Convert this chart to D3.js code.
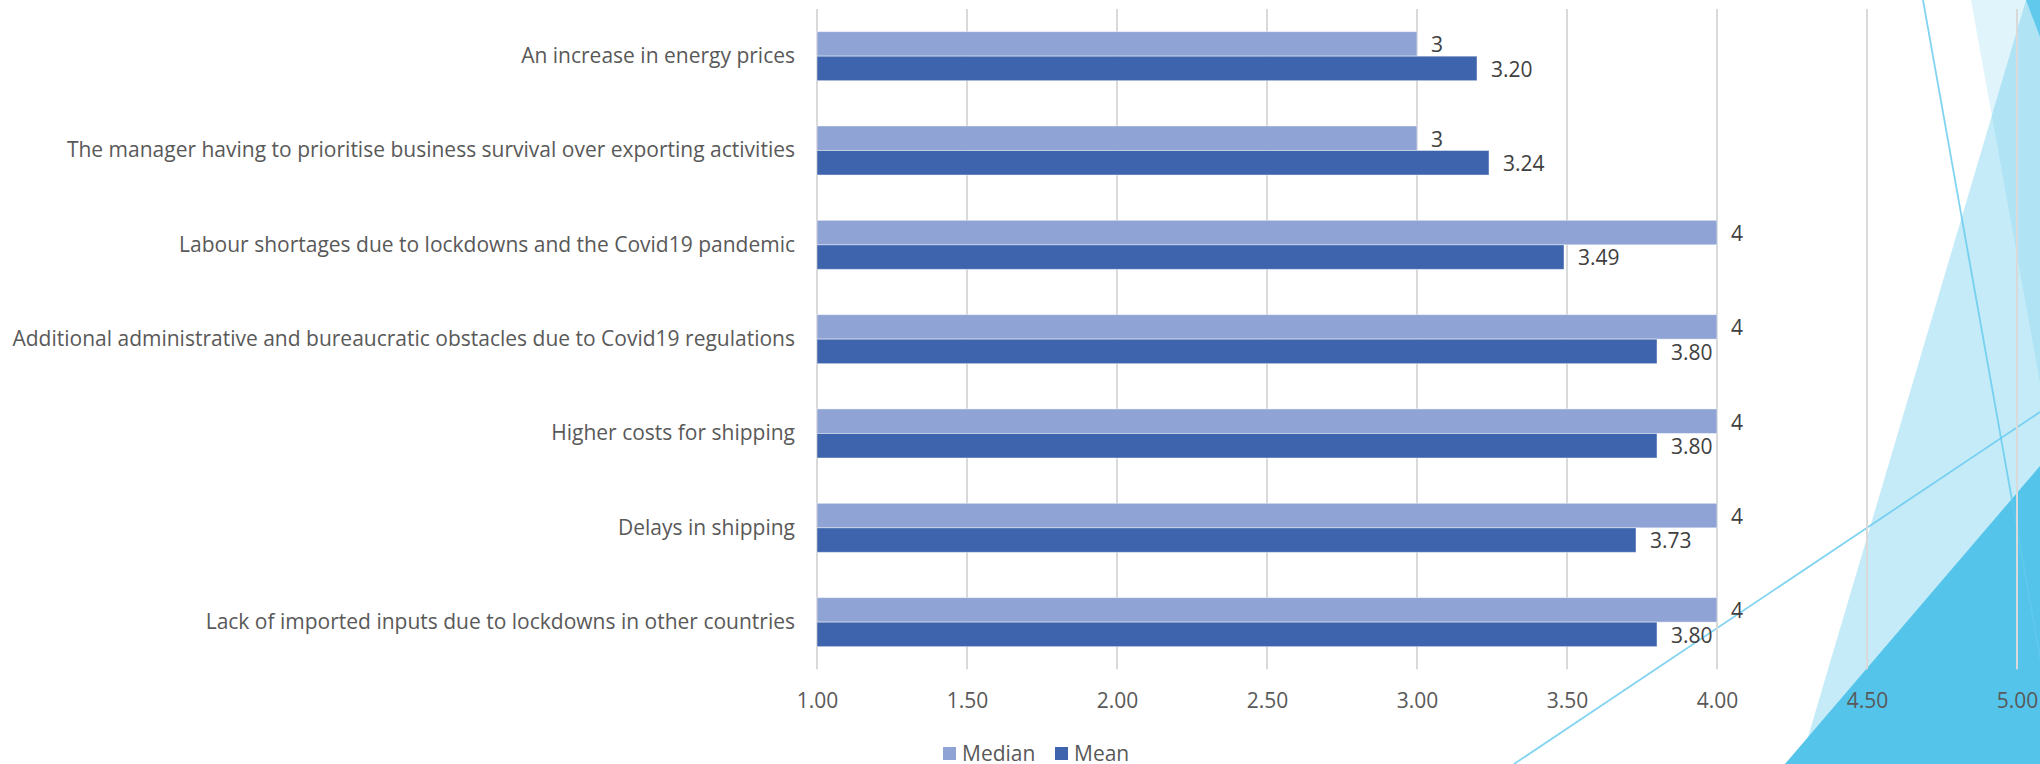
<!DOCTYPE html>
<html>
<head>
<meta charset="utf-8">
<script src="https://cdn.jsdelivr.net/npm/d3@7"></script>
<style>
  html, body { margin: 0; padding: 0; background: #ffffff; }
  svg { display: block; }
  text { font-family: "Open Sans", "Noto Sans", sans-serif; }
</style>
</head>
<body>
<svg id="chart" width="2040" height="764"></svg>
<script>
// Obstacles to exporting, rated 1-5: median and mean score per item
const categories = [
  "An increase in energy prices",
  "The manager having to prioritise business survival over exporting activities",
  "Labour shortages due to lockdowns and the Covid19 pandemic",
  "Additional administrative and bureaucratic obstacles due to Covid19 regulations",
  "Higher costs for shipping",
  "Delays in shipping",
  "Lack of imported inputs due to lockdowns in other countries"
];
const seriesNames = ["Median", "Mean"];
const medianValues = [3, 3, 4, 4, 4, 4, 4];
const meanValues = [3.20, 3.24, 3.49, 3.80, 3.80, 3.73, 3.80];
const tickValues = [1.00, 1.50, 2.00, 2.50, 3.00, 3.50, 4.00, 4.50, 5.00];

const W = 2040, H = 764;
const plot = { left: 817, right: 2017, top: 9, bottom: 669.3 };
const colors = { Median: "#8FA4D5", Mean: "#3D64AC" };
const fontSize = "21px";

const svg = d3.select("#chart");

// ---- slide backdrop: translucent facets on the right edge ----
const deco = svg.append("g").attr("class", "backdrop");
const facet = "#54C4EA";
const poly = pts => "M" + pts.map(p => p.join(",")).join("L") + "Z";
deco.append("path").attr("d", poly([[1971, 0], [2040, 0], [2040, 383]]))
  .attr("fill", facet).attr("fill-opacity", 0.19);
deco.append("path").attr("d", poly([[2026, 0], [2040, 0], [2040, 764], [1800, 764]]))
  .attr("fill", facet).attr("fill-opacity", 0.34);
deco.append("path").attr("d", poly([[2026, 0], [2040, 0], [2040, 37]]))
  .attr("fill", facet).attr("fill-opacity", 0.85);
deco.append("path").attr("d", poly([[1785, 764], [2040, 466], [2040, 764]]))
  .attr("fill", facet);
deco.append("line").attr("x1", 1923).attr("y1", 0).attr("x2", 2059).attr("y2", 764)
  .attr("stroke", "#62C9EE").attr("stroke-opacity", 0.8).attr("stroke-width", 1.8);
deco.append("line").attr("x1", 1514).attr("y1", 764).attr("x2", 2040).attr("y2", 412)
  .attr("stroke", "#62C9EE").attr("stroke-opacity", 0.8).attr("stroke-width", 1.8);

// ---- scales ----
const x = d3.scaleLinear().domain([1, 5]).range([plot.left, plot.right]);
const y = d3.scaleBand().domain(categories)
  .range([plot.top, plot.bottom]).paddingInner(0.48).paddingOuter(0.24);
const ySeries = d3.scaleBand().domain(seriesNames).range([0, y.bandwidth()]);

const rows = categories.map((c, i) => ({
  category: c,
  values: [
    { series: "Median", value: medianValues[i], label: d3.format("d")(medianValues[i]) },
    { series: "Mean", value: meanValues[i], label: d3.format(".2f")(meanValues[i]) }
  ]
}));

// ---- vertical gridlines ----
svg.append("g").attr("class", "grid")
  .selectAll("line").data(tickValues).join("line")
  .attr("x1", d => x(d)).attr("x2", d => x(d))
  .attr("y1", plot.top).attr("y2", plot.bottom)
  .attr("stroke", "#D9D9D9").attr("stroke-width", 2);

// ---- x axis tick labels ----
const xAxis = d3.axisBottom(x).tickValues(tickValues).tickFormat(d3.format(".2f")).tickSize(0).tickPadding(0);
const gx = svg.append("g").attr("transform", `translate(0,${plot.bottom + 25})`).call(xAxis);
gx.select(".domain").remove();
gx.selectAll("text")
  .attr("dy", "0.35em").attr("y", 6)
  .attr("fill", "#595959").style("font-size", fontSize)
  .style("font-family", "'Open Sans', 'Noto Sans', sans-serif");

// ---- category labels ----
const yAxis = d3.axisLeft(y).tickSize(0).tickPadding(22);
const gy = svg.append("g").attr("transform", `translate(${plot.left},0)`).call(yAxis);
gy.select(".domain").remove();
gy.selectAll("text")
  .attr("fill", "#595959").style("font-size", fontSize)
  .style("font-family", "'Open Sans', 'Noto Sans', sans-serif");

// ---- bars ----
const groups = svg.append("g").attr("class", "bars")
  .selectAll("g").data(rows).join("g")
  .attr("transform", d => `translate(0,${y(d.category)})`);

groups.selectAll("rect").data(d => d.values).join("rect")
  .attr("x", x(1))
  .attr("y", d => ySeries(d.series))
  .attr("width", d => x(d.value) - x(1))
  .attr("height", ySeries.bandwidth())
  .attr("fill", d => colors[d.series])
  .attr("stroke", "#ffffff").attr("stroke-opacity", 0.45).attr("stroke-width", 1);

// ---- value labels ----
groups.selectAll("text").data(d => d.values).join("text")
  .attr("x", d => x(d.value) + 14)
  .attr("y", d => ySeries(d.series) + ySeries.bandwidth() / 2 + 1)
  .attr("dy", "0.35em")
  .attr("fill", "#404040")
  .style("font-size", fontSize)
  .text(d => d.label);

// ---- legend ----
const legend = svg.append("g").attr("class", "legend").attr("transform", "translate(943,747)");
const legendX = d3.scaleOrdinal().domain(seriesNames).range([0, 112]);
const items = legend.selectAll("g").data(seriesNames).join("g")
  .attr("transform", d => `translate(${legendX(d)},0)`);
items.append("rect").attr("width", 13).attr("height", 13).attr("fill", d => colors[d]);
items.append("text").attr("x", 19).attr("y", 7).attr("dy", "0.35em")
  .attr("fill", "#595959").style("font-size", fontSize).text(d => d);
</script>
</body>
</html>
